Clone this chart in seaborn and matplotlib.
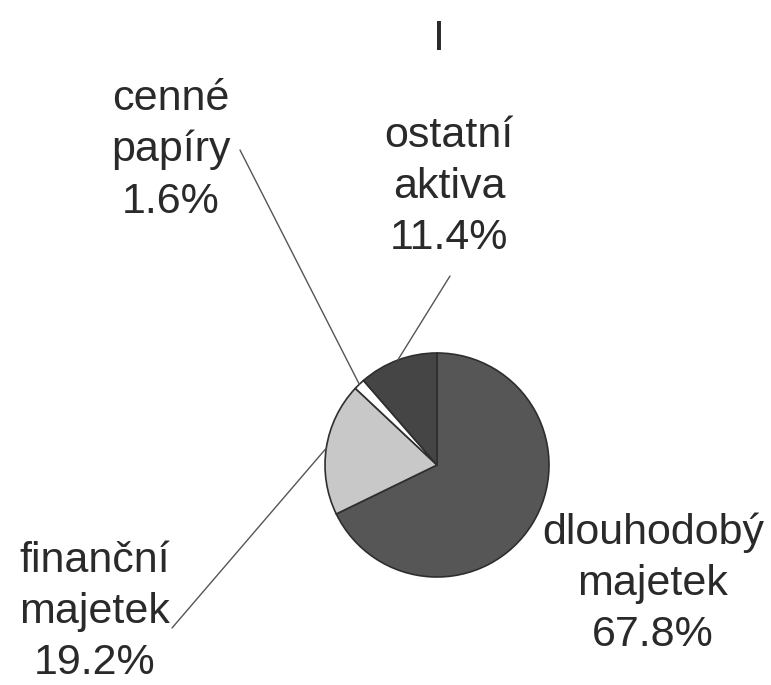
import numpy as np
import matplotlib
matplotlib.use("Agg")
import matplotlib.pyplot as plt
import seaborn as sns

categories = ["dlouhodobý\nmajetek", "finanční\nmajetek", "cenné\npapíry", "ostatní\naktiva"]
values = [67.8, 19.2, 1.6, 11.4]
colors = ["#565656", "#c8c8c8", "#ffffff", "#454545"]
title = "I"

sns.set_theme(style="white")
plt.rcParams["font.family"] = ["Liberation Sans", "DejaVu Sans"]

W, H = 771, 685
fig = plt.figure(figsize=(W / 100, H / 100), dpi=100)
ax = fig.add_axes([0, 0, 1, 1])

cx, cy, r = 437, H - 465, 112
wedges, _ = ax.pie(values, colors=colors, startangle=90, counterclock=False,
                   center=(cx, cy), radius=r, frame=True,
                   wedgeprops=dict(edgecolor="#2e2e2e", linewidth=1.2))
ax.set_xlim(0, W)
ax.set_ylim(0, H)
ax.set_aspect("equal")
ax.axis("off")

txt = "#2a2a2a"
fs = 31
# label positions (image coords, center of text block) and leader start points
label_pos = [(653, 584), (95, 612), (171, 150), (449, 187)]
leader_start = [None, (172, 628), (240, 150), (450, 276)]

for w, lab, v, (lx, ly), ls in zip(wedges, categories, values, label_pos, leader_start):
    ax.text(lx, H - ly, f"{lab}\n{v:.1f}%", ha="center", va="center",
            fontsize=fs, color=txt, linespacing=1.36)
    if ls is not None:
        ang = np.deg2rad((w.theta1 + w.theta2) / 2)
        px, py = cx + r * np.cos(ang), cy + r * np.sin(ang)
        ax.plot([ls[0], px], [H - ls[1], py], color="#555555", lw=1.0)

ax.text(439, H - 39, title, ha="center", va="center", fontsize=fs, color=txt)

fig.savefig("out.png", dpi=100, facecolor="white")
